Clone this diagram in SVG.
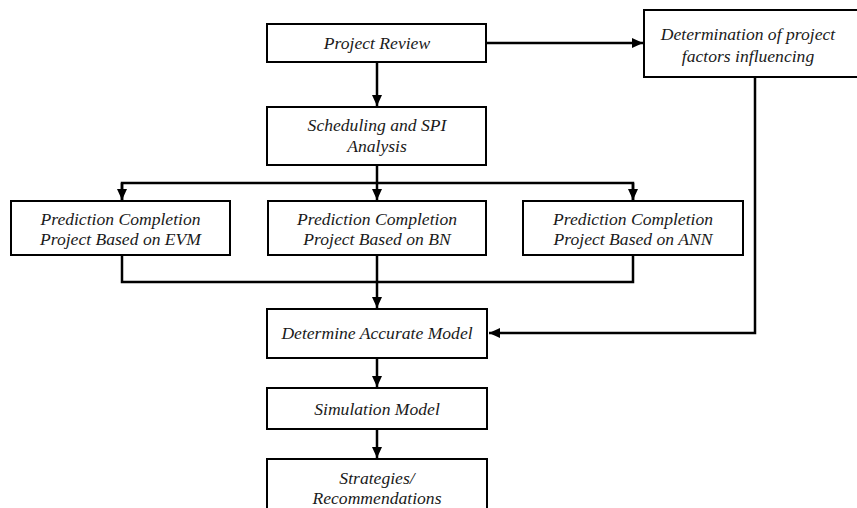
<svg xmlns="http://www.w3.org/2000/svg" width="857" height="508" viewBox="0 0 857 508">
<style>
.box{fill:#fff;stroke:#000;stroke-width:2}
.lbl{font-family:"Liberation Serif","Times New Roman",serif;font-style:italic;font-size:17.6px;fill:#1a1a1a;text-anchor:middle}
.con{fill:none;stroke:#000;stroke-width:2.5}
</style>
<defs>
<marker id="arr" markerUnits="userSpaceOnUse" markerWidth="12" markerHeight="12" viewBox="0 0 12 12" refX="11" refY="6" orient="auto">
<path d="M0,1 L11,6 L0,11 Z" fill="#000"/>
</marker>
</defs>
<rect width="857" height="508" fill="#fff"/>
<g id="connectors">
<line class="con" x1="377" y1="62" x2="377" y2="106" marker-end="url(#arr)"/>
<line class="con" x1="486" y1="43" x2="643" y2="43" marker-end="url(#arr)"/>
<polyline class="con" points="377,165 377,183"/>
<polyline class="con" points="122,200 122,183 633,183 633,200"/>
<line class="con" x1="122" y1="183" x2="122" y2="200" marker-end="url(#arr)"/>
<line class="con" x1="377" y1="183" x2="377" y2="200" marker-end="url(#arr)"/>
<line class="con" x1="633" y1="183" x2="633" y2="200" marker-end="url(#arr)"/>
<polyline class="con" points="122,255 122,282 633,282 633,255"/>
<line class="con" x1="377" y1="255" x2="377" y2="308" marker-end="url(#arr)"/>
<polyline class="con" points="755,77 755,333 489,333" marker-end="url(#arr)"/>
<line class="con" x1="377" y1="358" x2="377" y2="387" marker-end="url(#arr)"/>
<line class="con" x1="377" y1="429" x2="377" y2="458" marker-end="url(#arr)"/>
</g>
<g id="project-review">
<rect class="box" x="267" y="24" width="219" height="38"/>
<text class="lbl" x="377" y="49">Project Review</text>
</g>
<g id="determination">
<rect class="box" x="644" y="10" width="220" height="67"/>
<text class="lbl" x="748" y="40">Determination of project</text>
<text class="lbl" x="748" y="62">factors influencing</text>
</g>
<g id="scheduling">
<rect class="box" x="267" y="107" width="219" height="58"/>
<text class="lbl" x="377" y="131">Scheduling and SPI</text>
<text class="lbl" x="377" y="152">Analysis</text>
</g>
<g id="pred-evm">
<rect class="box" x="11" y="201" width="219" height="54"/>
<text class="lbl" x="120.5" y="225">Prediction Completion</text>
<text class="lbl" x="120.5" y="245">Project Based on EVM</text>
</g>
<g id="pred-bn">
<rect class="box" x="268" y="201" width="218" height="54"/>
<text class="lbl" x="377" y="225">Prediction Completion</text>
<text class="lbl" x="377" y="245">Project Based on BN</text>
</g>
<g id="pred-ann">
<rect class="box" x="523" y="201" width="220" height="54"/>
<text class="lbl" x="633" y="225">Prediction Completion</text>
<text class="lbl" x="633" y="245">Project Based on ANN</text>
</g>
<g id="determine-model">
<rect class="box" x="267" y="309" width="220" height="49"/>
<text class="lbl" x="377" y="339">Determine Accurate Model</text>
</g>
<g id="simulation">
<rect class="box" x="267" y="388" width="220" height="41"/>
<text class="lbl" x="377" y="415">Simulation Model</text>
</g>
<g id="strategies">
<rect class="box" x="267" y="459" width="220" height="60"/>
<text class="lbl" x="377" y="484">Strategies/</text>
<text class="lbl" x="377" y="504">Recommendations</text>
</g>
</svg>
